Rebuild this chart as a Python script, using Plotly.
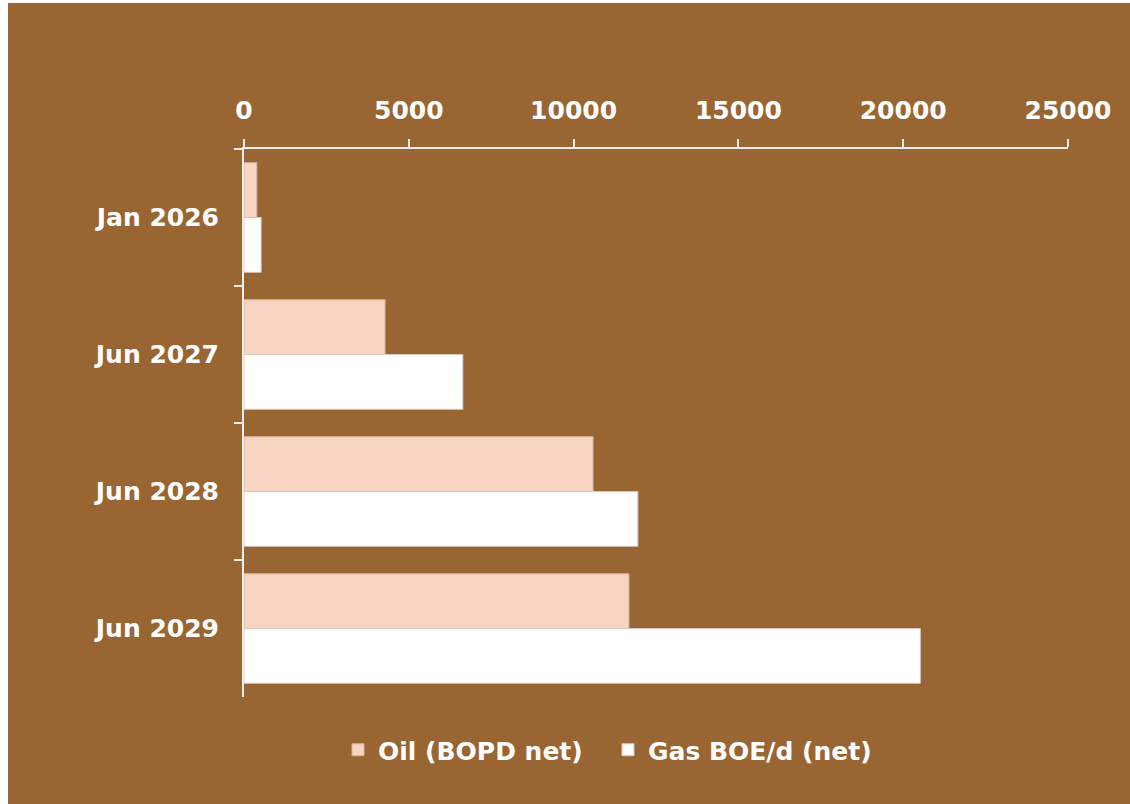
import plotly.graph_objects as go

categories = ["Jan 2026", "Jun 2027", "Jun 2028", "Jun 2029"]
oil_bopd = [390, 4280, 10590, 11680]
gas_boed = [520, 6640, 11950, 20520]
x_ticks = [0, 5000, 10000, 15000, 20000, 25000]

BROWN = "#996633"
FONT = dict(family="DejaVu Sans", size=25, color="white", weight="bold")

fig = go.Figure()
fig.add_trace(go.Bar(
    y=categories, x=oil_bopd, orientation="h", name="Oil (BOPD net)",
    marker=dict(color="#F8D4C2", line=dict(color="#d8b29c", width=1)),
))
fig.add_trace(go.Bar(
    y=categories, x=gas_boed, orientation="h", name="Gas BOE/d (net)",
    marker=dict(color="#FFFFFF", line=dict(color="#d8c8bc", width=1)),
))

L, R, T, B = 244, 62, 149, 107
W, H = 1130, 804
pw, ph = W - L - R, H - T - B

def px_x(p):
    return (p - L) / pw

def px_y(p):
    return (H - B - p) / ph

fig.update_layout(
    width=W, height=H,
    margin=dict(l=L, r=R, t=T, b=B, autoexpand=False),
    paper_bgcolor=BROWN, plot_bgcolor=BROWN,
    barmode="group", bargap=0.2, bargroupgap=0,
    font=FONT,
    showlegend=True,
    legend=dict(orientation="h", x=px_x(608), xanchor="center",
                y=px_y(750), yanchor="middle", font=FONT,
                bgcolor="rgba(0,0,0,0)", itemwidth=30,
                entrywidth=225, entrywidthmode="pixels"),
    xaxis=dict(side="top", range=[0, 25000], tickvals=x_ticks,
               ticktext=[str(v) for v in x_ticks],
               showgrid=False, zeroline=False, showline=True,
               linecolor="#eeeeee", linewidth=2,
               ticks="outside", ticklen=8, tickwidth=2, tickcolor="#eeeeee",
               ticklabelstandoff=10, tickfont=FONT),
    yaxis=dict(autorange="reversed", showgrid=False, zeroline=False,
               showline=True, linecolor="#eeeeee", linewidth=2,
               ticks="outside", ticklen=8, tickwidth=2, tickcolor="#eeeeee",
               tickson="boundaries", ticklabelstandoff=18, tickfont=FONT),
    shapes=[
        dict(type="rect", xref="paper", yref="paper", layer="above",
             x0=px_x(0), x1=px_x(8), y0=px_y(H), y1=px_y(0),
             fillcolor="white", line=dict(width=0)),
        dict(type="rect", xref="paper", yref="paper", layer="above",
             x0=px_x(0), x1=px_x(W), y0=px_y(3), y1=px_y(0),
             fillcolor="white", line=dict(width=0)),
    ],
)

fig.write_html("out.html")
